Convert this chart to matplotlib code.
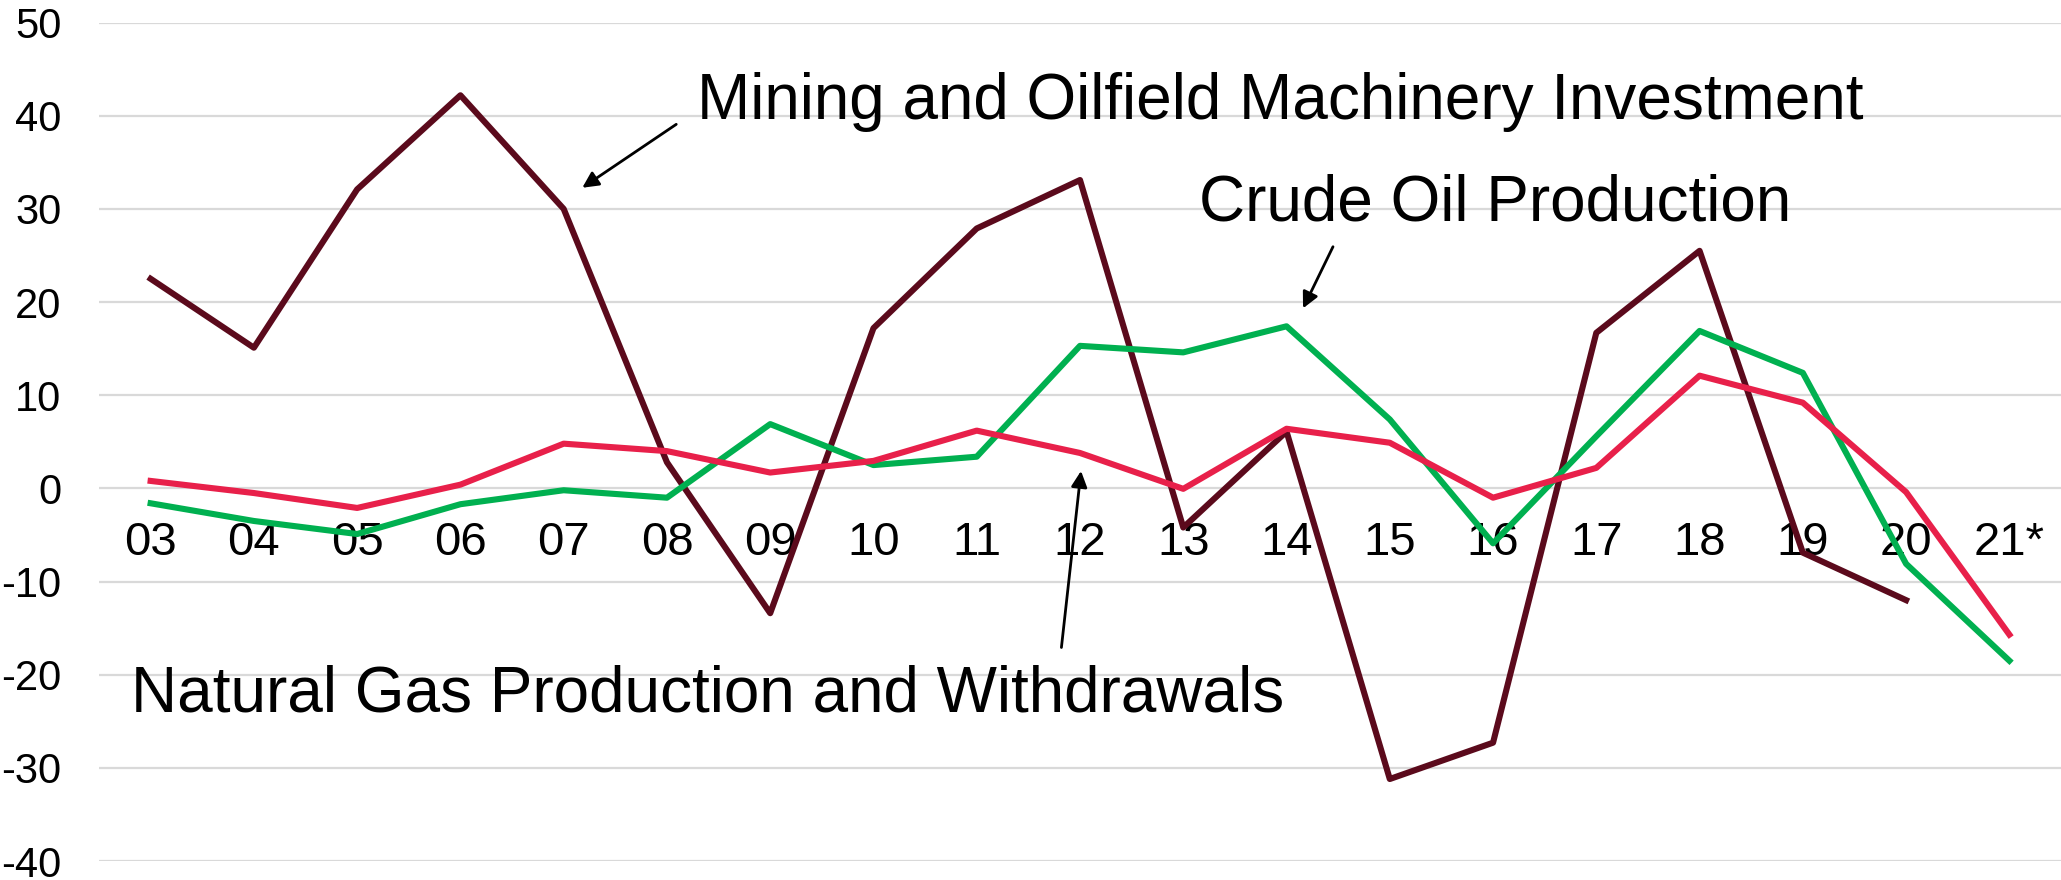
import matplotlib
matplotlib.use('Agg')
import matplotlib.pyplot as plt
import numpy as np

# year labels (category axis)
years = ['03', '04', '05', '06', '07', '08', '09', '10', '11', '12',
         '13', '14', '15', '16', '17', '18', '19', '20', '21*']

# percent change
mining = [22.5, 15.1, 32.1, 42.2, 30.0, 2.8, -13.4, 17.2, 27.9, 33.1,
          -4.2, 6.1, -31.2, -27.3, 16.7, 25.5, -6.9, -12.0, None]
crude = [-1.6, -3.5, -4.9, -1.7, -0.2, -1.0, 6.9, 2.5, 3.4, 15.3,
         14.6, 17.4, 7.4, -5.9, 5.6, 16.9, 12.4, -8.1, -18.5]
natgas = [0.8, -0.5, -2.1, 0.4, 4.8, 4.0, 1.7, 2.95, 6.2, 3.8,
          -0.05, 6.4, 4.9, -1.0, 2.2, 12.1, 9.2, -0.4, -15.7]

plt.rcParams['font.family'] = ['Liberation Sans', 'DejaVu Sans']
plt.rcParams['axes.unicode_minus'] = False

W, H, DPI = 2061, 880, 100
fig = plt.figure(figsize=(W / DPI, H / DPI), dpi=DPI)
ax = fig.add_axes([99 / W, 1 - 861 / H, 1 - 99 / W, (861 - 22.6) / H])

x = np.arange(len(years))
m = np.array([np.nan if v is None else v for v in mining], dtype=float)

ax.plot(x, m, color='#5B0A1C', lw=4.4, zorder=3)
ax.plot(x, crude, color='#00B050', lw=4.4, zorder=4)
ax.plot(x, natgas, color='#E8204A', lw=4.4, zorder=5)

ax.set_xlim(-0.5, len(years) - 0.5)
ax.set_ylim(-40, 50)
ax.set_yticks(np.arange(-40, 51, 10))
ax.grid(axis='y', color='#D9D9D9', lw=1.6, zorder=0)
ax.set_axisbelow(True)
ax.set_xticks([])
ax.tick_params(axis='y', length=0, pad=27, labelsize=30)
for s in ax.spines.values():
    s.set_visible(False)

# category labels sit just under the zero line
for i, lab in enumerate(years):
    ax.text(i, -5.9, lab, ha='center', va='center', fontsize=34, zorder=2)

arrow = dict(arrowstyle='-|>', color='black', lw=2.0, mutation_scale=24,
             shrinkA=0, shrinkB=0)
ax.text(5.29, 39.7, 'Mining and Oilfield Machinery Investment',
        fontsize=46, va='baseline', ha='left')
ax.annotate('', xy=(4.18, 32.27), xytext=(5.09, 39.08), arrowprops=arrow)

ax.text(10.15, 28.8, 'Crude Oil Production', fontsize=46, va='baseline', ha='left')
ax.annotate('', xy=(11.16, 19.33), xytext=(11.45, 25.94), arrowprops=arrow)

ax.text(-0.19, -23.9, 'Natural Gas Production and Withdrawals',
        fontsize=46, va='baseline', ha='left')
ax.annotate('', xy=(9.01, 1.87), xytext=(8.82, -17.08), arrowprops=arrow)

fig.savefig('out.png', dpi=DPI)
